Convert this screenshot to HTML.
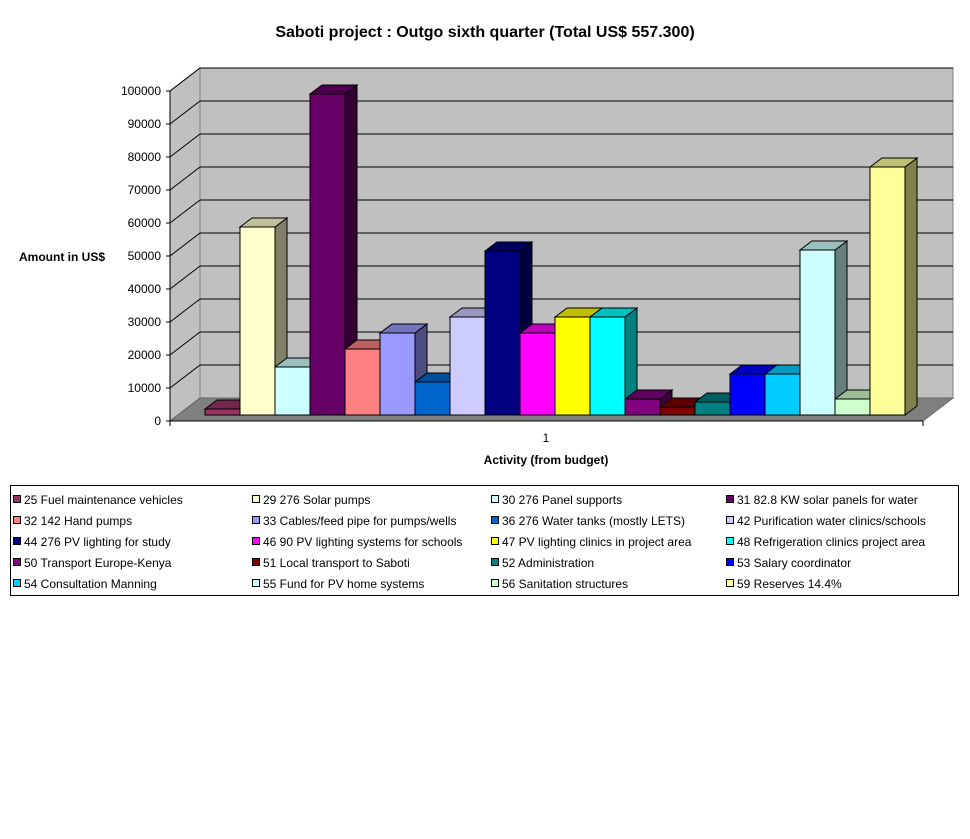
<!DOCTYPE html>
<html><head><meta charset="utf-8"><style>
body{margin:0;background:#fff;}
svg text{font-family:"Liberation Sans",Arial,sans-serif;}
</style></head><body>
<svg id="s" width="970" height="834" xmlns="http://www.w3.org/2000/svg">
<rect width="970" height="834" fill="#fff"/>
<text x="485" y="37" text-anchor="middle" font-size="16" font-weight="bold">Saboti project : Outgo sixth quarter (Total US$ 557.300)</text>
<polygon points="170,421 200,398 200,68 170,91" fill="#c0c0c0" stroke="#808080"/>
<polygon points="200,68 953,68 953,398 200,398" fill="#c0c0c0" stroke="#808080"/>
<polygon points="170,421 923,421 953,398 200,398" fill="#808080" stroke="#666"/>
<g id="grid" stroke="#000" stroke-width="1"></g>
<line x1="170" y1="91" x2="170" y2="421" stroke="#000"/>
<line x1="170" y1="421" x2="923" y2="421" stroke="#000"/>
<line x1="170" y1="421" x2="170" y2="426" stroke="#000"/>
<line x1="923" y1="421" x2="923" y2="426" stroke="#000"/>
<g id="bars" stroke="#000" stroke-width="1"></g>
<text x="546" y="442" text-anchor="middle" font-size="12">1</text>
<text x="546" y="464" text-anchor="middle" font-size="12" font-weight="bold">Activity (from budget)</text>
<text x="19" y="261" font-size="12" font-weight="bold">Amount in US$</text>
<g font-size="12" text-anchor="end">
<text x="161" y="95">100000</text>
<text x="161" y="128">90000</text>
<text x="161" y="161">80000</text>
<text x="161" y="194">70000</text>
<text x="161" y="227">60000</text>
<text x="161" y="260">50000</text>
<text x="161" y="293">40000</text>
<text x="161" y="326">30000</text>
<text x="161" y="359">20000</text>
<text x="161" y="392">10000</text>
<text x="161" y="425">0</text>
</g>
<rect x="10.5" y="485.5" width="948" height="110" fill="#fff" stroke="#000"/>
<g id="leg" font-size="12"></g>
<g font-size="12">
<text x="24" y="504">25 Fuel maintenance vehicles</text>
<text x="263" y="504">29 276 Solar pumps</text>
<text x="502" y="504">30 276 Panel supports</text>
<text x="737" y="504">31 82.8 KW solar panels for water</text>
<text x="24" y="525">32 142 Hand pumps</text>
<text x="263" y="525">33 Cables/feed pipe for pumps/wells</text>
<text x="502" y="525">36 276 Water tanks (mostly LETS)</text>
<text x="737" y="525">42 Purification water clinics/schools</text>
<text x="24" y="546">44 276 PV lighting for study</text>
<text x="263" y="546">46 90 PV lighting systems for schools</text>
<text x="502" y="546">47 PV lighting clinics in project area</text>
<text x="737" y="546">48 Refrigeration clinics project area</text>
<text x="24" y="567">50 Transport Europe-Kenya</text>
<text x="263" y="567">51 Local transport to Saboti</text>
<text x="502" y="567">52 Administration</text>
<text x="737" y="567">53 Salary coordinator</text>
<text x="24" y="588">54 Consultation Manning</text>
<text x="263" y="588">55 Fund for PV home systems</text>
<text x="502" y="588">56 Sanitation structures</text>
<text x="737" y="588">59 Reserves 14.4%</text>
</g>
</svg>
<script>
var NS="http://www.w3.org/2000/svg";
function el(p,t,a){var e=document.createElementNS(NS,t);for(var k in a)e.setAttribute(k,a[k]);p.appendChild(e);return e;}
var g=document.getElementById('grid');
for(var i=1;i<=10;i++){var yf=421-33*i;el(g,'line',{x1:170,y1:yf,x2:200,y2:yf-23});el(g,'line',{x1:200,y1:yf-23,x2:953,y2:yf-23});el(g,'line',{x1:166,y1:yf,x2:170,y2:yf});}
el(g,'line',{x1:166,y1:421,x2:170,y2:421});
var cols=["#993366","#FFFFCC","#CCFFFF","#660066","#FF8080","#9999FF","#0066CC","#CCCCFF","#000080","#FF00FF","#FFFF00","#00FFFF","#800080","#800000","#008080","#0000FF","#00CCFF","#CCFFFF","#CCFFCC","#FFFF99"];
var tops=[409,227,367,94,349,333,382,317,251,333,317,317,399,407,402,374,374,250,399,167];
function dark(c,f){var r=parseInt(c.substr(1,2),16),gg=parseInt(c.substr(3,2),16),b=parseInt(c.substr(5,2),16);return "rgb("+Math.round(r*f)+","+Math.round(gg*f)+","+Math.round(b*f)+")";}
var B=document.getElementById('bars');var base=415,dx=12,dy=9,w=35;
for(var i=0;i<20;i++){var x=205+i*w,t=tops[i],c=cols[i];
el(B,'polygon',{points:(x+w)+","+base+" "+(x+w+dx)+","+(base-dy)+" "+(x+w+dx)+","+(t-dy)+" "+(x+w)+","+t,fill:dark(c,0.5)});
el(B,'polygon',{points:x+","+t+" "+(x+dx)+","+(t-dy)+" "+(x+w+dx)+","+(t-dy)+" "+(x+w)+","+t,fill:dark(c,0.75)});}
for(var i=0;i<20;i++){var x=205+i*w,t=tops[i];el(B,'rect',{x:x,y:t,width:w,height:base-t,fill:cols[i]});}
var L=document.getElementById('leg');var lx=[13,252,491,726];
for(var i=0;i<20;i++){el(L,'rect',{x:lx[i%4]+0.5,y:495.5+21*Math.floor(i/4),width:7,height:7,fill:cols[i],stroke:"#000"});}
</script>
</body></html>
